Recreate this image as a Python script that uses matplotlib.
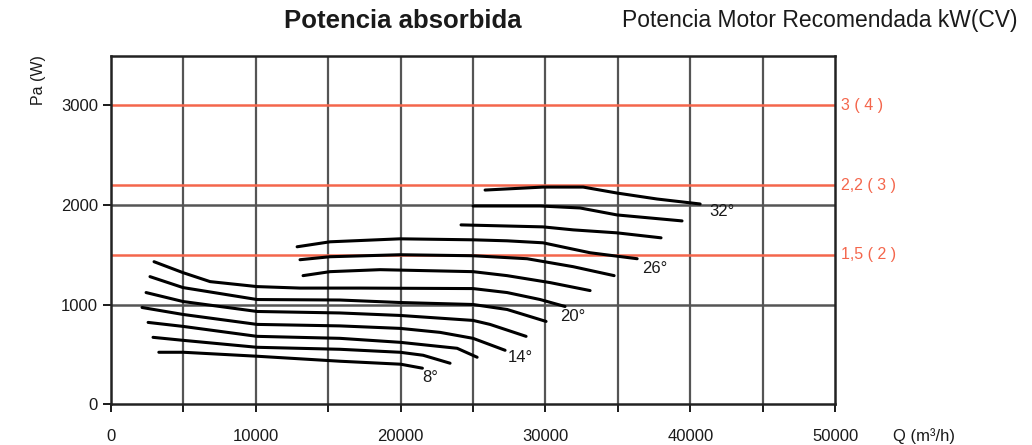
import matplotlib
matplotlib.use("Agg")
import matplotlib.pyplot as plt
from matplotlib.ticker import MultipleLocator

plt.rcParams["font.family"] = ["Liberation Sans", "DejaVu Sans"]

# curvas de potencia absorbida por angulo de alabe
angles = [8, 10, 12, 14, 16, 18, 20, 22, 24, 26, 28, 30, 32]
q_8 = [3300, 5000, 10100, 15800, 20000, 21500]
pa_8 = [520, 520, 480, 430, 400, 360]
q_10 = [2900, 4970, 10080, 15810, 19960, 21550, 23410]
pa_10 = [670, 640, 570, 550, 520, 490, 410]
q_12 = [2560, 4970, 10080, 15810, 19960, 23900, 25280]
pa_12 = [820, 780, 680, 660, 620, 560, 470]
q_14 = [2140, 4970, 10080, 15810, 19960, 22720, 25000, 27210]
pa_14 = [970, 900, 800, 785, 760, 720, 660, 540]
q_16 = [2420, 4970, 10080, 15810, 19960, 25000, 26170, 28660]
pa_16 = [1120, 1030, 930, 915, 890, 840, 800, 680]
q_18 = [2690, 4970, 10080, 15810, 19960, 25000, 27350, 30040]
pa_18 = [1280, 1170, 1050, 1045, 1020, 1000, 950, 830]
q_20 = [2970, 4970, 6840, 10080, 13050, 17200, 25000, 27350, 29630, 31350]
pa_20 = [1430, 1320, 1230, 1180, 1165, 1165, 1160, 1120, 1050, 980]
q_22 = [13260, 15120, 18580, 25000, 27350, 30320, 33080]
pa_22 = [1290, 1330, 1350, 1330, 1290, 1220, 1140]
q_24 = [13050, 15120, 19960, 25000, 28730, 31910, 34740]
pa_24 = [1450, 1480, 1500, 1490, 1460, 1380, 1290]
q_26 = [12850, 15120, 19960, 25000, 27350, 29830, 33080, 36330]
pa_26 = [1580, 1630, 1660, 1650, 1640, 1620, 1520, 1460]
q_28 = [24170, 29830, 31910, 34940, 37980]
pa_28 = [1800, 1780, 1750, 1720, 1670]
q_30 = [25000, 29630, 32390, 34940, 39430]
pa_30 = [1990, 1990, 1970, 1900, 1840]
q_32 = [25830, 29830, 32600, 34940, 37710, 40680]
pa_32 = [2150, 2180, 2180, 2120, 2060, 2010]

curves_q = [q_8, q_10, q_12, q_14, q_16, q_18, q_20, q_22, q_24, q_26, q_28, q_30, q_32]
curves_pa = [pa_8, pa_10, pa_12, pa_14, pa_16, pa_18, pa_20, pa_22, pa_24, pa_26, pa_28, pa_30, pa_32]

# etiquetas de angulo (solo algunas curvas)
label_angles = [8, 14, 20, 26, 32]
label_q = [22030, 28250, 31900, 37570, 42200]
label_pa = [270, 470, 880, 1360, 1930]

# potencia motor recomendada
motor_pa = [3000, 2200, 1500]
motor_labels = ["3 ( 4 )", "2,2 ( 3 )", "1,5 ( 2 )"]

red = "#f4664c"
grid_c = "#555555"
txt = "#1a1a1a"

fig = plt.figure(figsize=(10.32, 4.45), dpi=100)
ax = fig.add_axes([0.1076, 0.0921, 0.7016, 0.7827])
ax.set_xlim(0, 50000)
ax.set_ylim(0, 3500)

# rejilla
for x in range(5000, 50000, 5000):
    ax.axvline(x, color=grid_c, lw=1.6, zorder=1)
for y in [1000, 2000]:
    ax.axhline(y, color=grid_c, lw=1.8, zorder=1)
for y in motor_pa:
    ax.axhline(y, color=red, lw=1.8, zorder=2)

for q, pa in zip(curves_q, curves_pa):
    ax.plot(q, pa, color="black", lw=2.2, solid_capstyle="round", zorder=3)

for a, q, pa in zip(label_angles, label_q, label_pa):
    ax.text(q, pa, f"{a}°", fontsize=12, ha="center", va="center", color=txt, zorder=4)

for y, t in zip(motor_pa, motor_labels):
    ax.text(1.008, y, t, transform=ax.get_yaxis_transform(), fontsize=11.5,
            color=red, ha="left", va="center")

for s in ax.spines.values():
    s.set_linewidth(1.8)
    s.set_color("#222222")

ax.xaxis.set_major_locator(MultipleLocator(10000))
ax.xaxis.set_minor_locator(MultipleLocator(5000))
ax.set_yticks([0, 1000, 2000, 3000])
ax.tick_params(axis="both", which="both", length=6, width=1.4, labelsize=12,
               colors=txt)
ax.tick_params(axis="x", pad=12)
ax.set_ylabel("Pa (W)", fontsize=11.5, color=txt)
ax.yaxis.set_label_coords(-0.09, 0.93)

fig.text(0.865, 0.02, "Q (m³/h)", fontsize=12, color=txt, ha="left", va="center")

fig.text(0.39, 0.953, "Potencia absorbida", fontsize=18.5, fontweight="bold",
         ha="center", va="center", color=txt)
fig.text(0.603, 0.953, "Potencia Motor Recomendada kW(CV)", fontsize=16.5,
         ha="left", va="center", color=txt)

fig.savefig("out.png", dpi=100)
